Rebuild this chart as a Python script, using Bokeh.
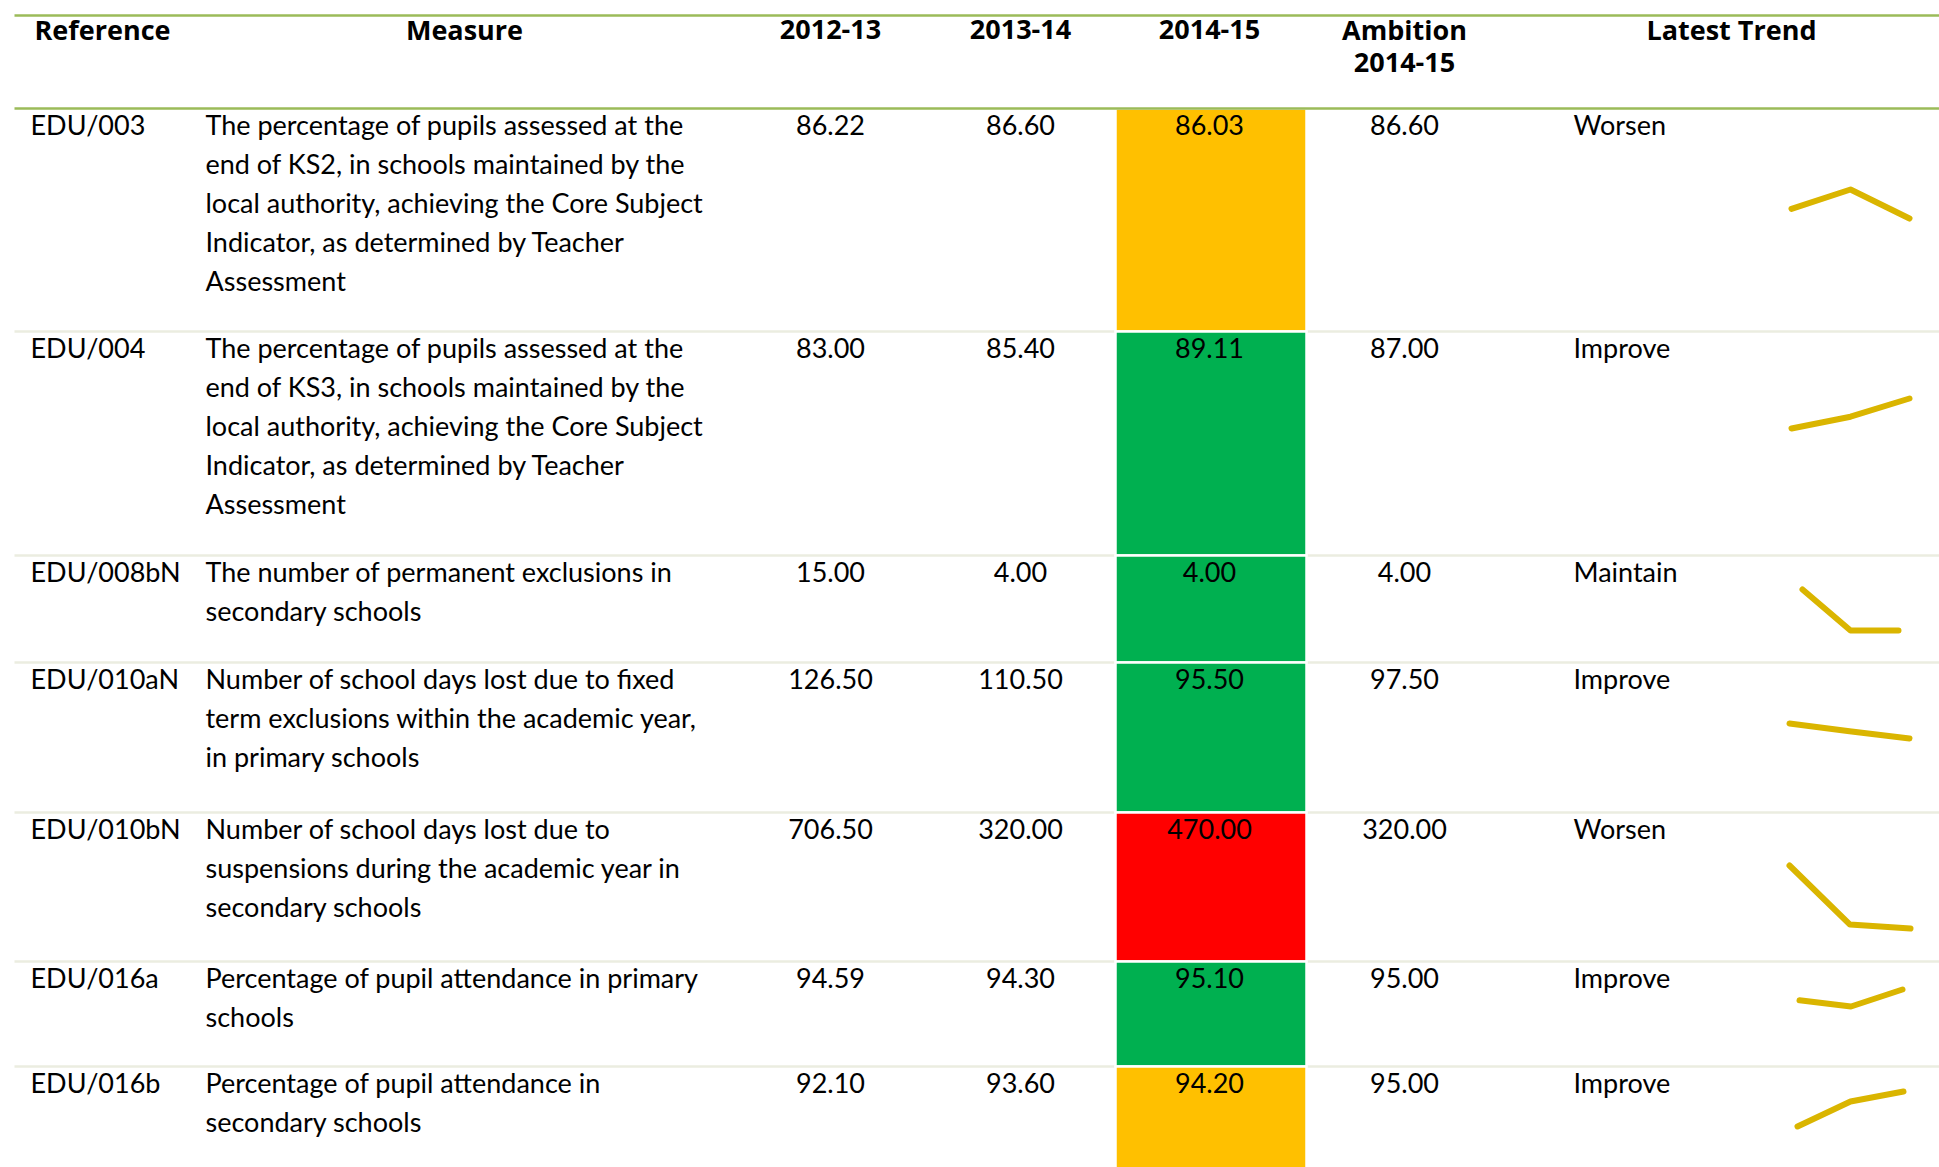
from bokeh.plotting import figure
from bokeh.models import Range1d
from bokeh.core.properties import value
from bokeh.embed import file_html
from bokeh.resources import INLINE

# ---------------- data ----------------
headers = ["Reference", "Measure", "2012-13", "2013-14", "2014-15", "Ambition\n2014-15", "Latest Trend"]
references = ["EDU/003", "EDU/004", "EDU/008bN", "EDU/010aN", "EDU/010bN", "EDU/016a", "EDU/016b"]
measures = [
    ["The percentage of pupils assessed at the", "end of KS2, in schools maintained by the",
     "local authority, achieving the Core Subject", "Indicator, as determined by Teacher", "Assessment"],
    ["The percentage of pupils assessed at the", "end of KS3, in schools maintained by the",
     "local authority, achieving the Core Subject", "Indicator, as determined by Teacher", "Assessment"],
    ["The number of permanent exclusions in", "secondary schools"],
    ["Number of school days lost due to fixed", "term exclusions within the academic year,",
     "in primary schools"],
    ["Number of school days lost due to", "suspensions during the academic year in",
     "secondary schools"],
    ["Percentage of pupil attendance in primary", "schools"],
    ["Percentage of pupil attendance in", "secondary schools"],
]
v_2012_13 = [86.22, 83.00, 15.00, 126.50, 706.50, 94.59, 92.10]
v_2013_14 = [86.60, 85.40, 4.00, 110.50, 320.00, 94.30, 93.60]
v_2014_15 = [86.03, 89.11, 4.00, 95.50, 470.00, 95.10, 94.20]
ambition_2014_15 = [86.60, 87.00, 4.00, 97.50, 320.00, 95.00, 95.00]
latest_trend = ["Worsen", "Improve", "Maintain", "Improve", "Worsen", "Improve", "Improve"]
rag_status = ["Amber", "Green", "Green", "Green", "Red", "Green", "Amber"]
# sparkline values as drawn in the picture (three years each)
spark_values = [
    [86.22, 86.60, 86.03],
    [83.00, 85.40, 89.11],
    [15.00, 4.00, 4.00],
    [126.50, 110.50, 95.50],
    [706.50, 320.00, 294.00],
    [94.59, 94.30, 95.10],
    [92.10, 93.60, 94.20],
]

# ---------------- layout / style ----------------
W, H = 1939, 1167
ORG = 0
row_tops = [108, 331, 555, 662, 812, 961, 1066]
table_bottom = 1175
line_left, line_right = 14, 1945
col_ref_left = 30
col_measure_left = 205
col_centers = [102, 464, 830, 1020, 1209, 1404, 1731]
col_trend_left = 1573
rag_left, rag_right = 1115, 1306
first_baseline = 16
head_baseline = 29
head_step = 33
line_step = 39
# sparkline boxes: (left, right, top, bottom) in page pixels
spark_boxes = [
    (1791, 1909, 189, 218),
    (1791, 1909, 398, 428),
    (1802, 1898, 589, 630),
    (1789, 1909, 723, 738),
    (1789, 1910, 865, 928),
    (1799, 1902, 989, 1006),
    (1797, 1903, 1091, 1126),
]
rag_colors = {"Amber": "#FFC000", "Green": "#00B050", "Red": "#FF0000"}
BODY_FONT = value("Lato")
HEAD_FONT = value("Open Sans")
BODY_SIZE = "27px"
HEAD_SIZE = "27px"
SPARK_COLOR = "#DAB500"

p = figure(width=W, height=H, output_backend="svg", toolbar_location=None,
           x_range=Range1d(ORG, ORG + W), y_range=Range1d(ORG + H, ORG),
           min_border=0, outline_line_color=None)
p.xaxis.visible = False
p.yaxis.visible = False
p.xgrid.visible = False
p.ygrid.visible = False
p.background_fill_color = "white"
p.border_fill_color = "white"

n = len(references)
row_bottoms = row_tops[1:] + [table_bottom]

# row separators
p.segment(x0=[line_left] * (n - 1), x1=[line_right] * (n - 1), y0=row_tops[1:], y1=row_tops[1:],
          line_color="#EBEDE0", line_width=2.5)

# RAG cells
p.quad(left=[rag_left] * n, right=[rag_right] * n, top=row_tops, bottom=row_bottoms,
       fill_color=[rag_colors[s] for s in rag_status], line_color="white", line_width=2.5)

# header rules
p.segment(x0=[line_left] * 2, x1=[line_right] * 2, y0=[15, row_tops[0]], y1=[15, row_tops[0]],
          line_color="#9BBB59", line_width=2.5)

# headers
hx, hy, ht = [], [], []
for c, h in zip(col_centers, headers):
    for j, part in enumerate(h.split("\n")):
        hx.append(c)
        hy.append(head_baseline + head_step * j)
        ht.append(part)
p.text(x=hx, y=hy, text=ht, text_font=HEAD_FONT, text_font_style="bold", text_font_size=HEAD_SIZE,
       text_align="center", text_baseline="alphabetic", text_color="black")

# reference, measure and trend (left aligned)
lx, ly, lt = [], [], []
for i in range(n):
    base = row_tops[i] + first_baseline
    lx += [col_ref_left, col_trend_left]
    ly += [base, base]
    lt += [references[i], latest_trend[i]]
    for j, line in enumerate(measures[i]):
        lx.append(col_measure_left)
        ly.append(base + line_step * j)
        lt.append(line)
p.text(x=lx, y=ly, text=lt, text_font=BODY_FONT, text_font_size=BODY_SIZE,
       text_align="left", text_baseline="alphabetic", text_color="black")

# numeric columns
nx, ny, nt = [], [], []
for col, vals in zip(col_centers[2:6], [v_2012_13, v_2013_14, v_2014_15, ambition_2014_15]):
    for i in range(n):
        nx.append(col)
        ny.append(row_tops[i] + first_baseline)
        nt.append(f"{vals[i]:.2f}")
p.text(x=nx, y=ny, text=nt, text_font=BODY_FONT, text_font_size=BODY_SIZE,
       text_align="center", text_baseline="alphabetic", text_color="black")

# sparklines, each with its own scales
for i in range(n):
    L, R, T, B = spark_boxes[i]
    vals = spark_values[i]
    xs = list(range(len(vals)))
    span_x = (len(vals) - 1) * W / (R - L)
    sx = -(L - ORG) * span_x / W
    vmin, vmax = min(vals), max(vals)
    span_y = (vmax - vmin) * H / (B - T)
    sy = vmin - (ORG + H - B) * span_y / H
    p.extra_x_ranges[f"sx{i}"] = Range1d(sx, sx + span_x)
    p.extra_y_ranges[f"sy{i}"] = Range1d(sy, sy + span_y)
    p.line(x=xs, y=vals, x_range_name=f"sx{i}", y_range_name=f"sy{i}",
           line_color=SPARK_COLOR, line_width=6, line_cap="round", line_join="round")

open("out.html", "w").write(file_html(p, INLINE))
